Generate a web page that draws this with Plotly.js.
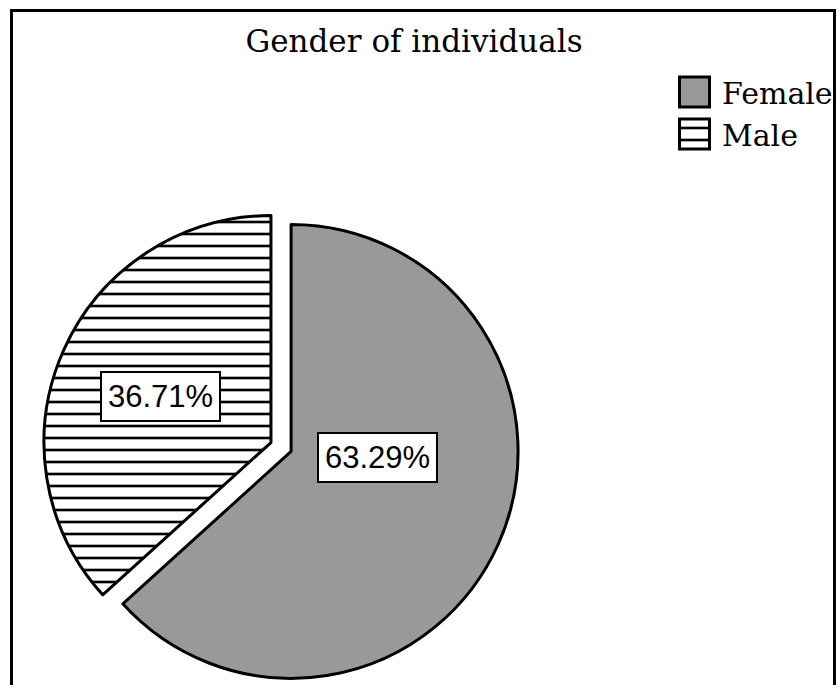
<!DOCTYPE html>
<html>
<head>
<meta charset="utf-8">
<script src="https://cdn.plot.ly/plotly-3.0.1.min.js"></script>
<style>html,body{margin:0;padding:0;background:#fff;}#chart{width:839px;height:685px;}</style>
</head>
<body>
<div id="chart"></div>
<script>
// ---- data ----
const chartTitle = 'Gender of individuals';
const labels = ['Female', 'Male'];
const values = [63.29, 36.71];
const pctText = ['63.29%', '36.71%'];

// ---- layout / style ----
const W = 839, H = 685;
const domainX = [0.0513, 0.6186];
const domainY = [0.0, 0.6949];
const pull = 0.0485;
const fills = ['#999999', '#ffffff'];
const patternShapes = ['', '-'];
// label placement: radial fraction and angular shift (deg) relative to slice mid-angle
const labelFrac = [0.38, 0.526];
const labelShift = [-20, -1];

// compute label positions from data + pie geometry
const total = values.reduce((a, b) => a + b, 0);
const cx = W * (domainX[0] + domainX[1]) / 2;
const domH = H * (domainY[1] - domainY[0]);
const cy = H * (1 - domainY[0]) - domH / 2;
const rBase = Math.min(W * (domainX[1] - domainX[0]), domH) / 2;
const r = rBase / (1 + pull);
let cum = 0;
const annotations = [];
values.forEach((v, i) => {
  const a0 = cum / total * 360;
  cum += v;
  const a1 = cum / total * 360;
  const mid = (a0 + a1) / 2 * Math.PI / 180;
  const scx = cx + pull * r * Math.sin(mid);
  const scy = cy - pull * r * Math.cos(mid);
  const la = ((a0 + a1) / 2 + labelShift[i]) * Math.PI / 180;
  const lx = scx + labelFrac[i] * r * Math.sin(la);
  const ly = scy - labelFrac[i] * r * Math.cos(la);
  annotations.push({
    xref: 'paper', yref: 'paper', x: lx / W, y: 1 - ly / H,
    xanchor: 'center', yanchor: 'middle', showarrow: false,
    text: pctText[i],
    font: {family: 'Liberation Sans, Arial, sans-serif', size: 31, color: '#000'},
    bgcolor: '#ffffff', bordercolor: '#000000', borderwidth: 2, borderpad: 6
  });
});

const trace = {
  type: 'pie',
  labels: labels,
  values: values,
  sort: false,
  direction: 'clockwise',
  rotation: 0,
  pull: pull,
  textinfo: 'none',
  hoverinfo: 'none',
  domain: {x: domainX, y: domainY},
  marker: {
    colors: fills,
    line: {color: '#000000', width: 3},
    pattern: {shape: patternShapes, fgcolor: '#000000', bgcolor: '#ffffff', size: 12, solidity: 0.22, fillmode: 'replace'}
  }
};

const layout = {
  width: W, height: H,
  margin: {l: 0, r: 0, t: 0, b: 0},
  paper_bgcolor: '#ffffff',
  plot_bgcolor: '#ffffff',
  title: {
    text: chartTitle,
    font: {family: 'DejaVu Serif, serif', size: 31, color: '#000'},
    x: 414 / W, xanchor: 'center', xref: 'paper',
    y: 1 - 30 / H, yanchor: 'top', yref: 'container'
  },
  showlegend: true,
  legend: {
    x: 672 / W, y: 1 - 66 / H, xanchor: 'left', yanchor: 'top',
    font: {family: 'DejaVu Serif, serif', size: 30, color: '#000'},
    itemwidth: 40, bgcolor: 'rgba(0,0,0,0)', borderwidth: 0,
    traceorder: 'normal'
  },
  shapes: [{
    type: 'rect', xref: 'paper', yref: 'paper',
    x0: 11.5 / W, x1: 834.5 / W, y0: -0.2, y1: 1 - 10.5 / H,
    line: {color: '#000', width: 3}, fillcolor: 'rgba(0,0,0,0)', layer: 'above'
  }],
  annotations: annotations
};

Plotly.newPlot('chart', [trace], layout, {staticPlot: true, displayModeBar: false}).then(function (gd) {
  gd.querySelectorAll('path.legendpie').forEach(function (p) {
    p.setAttribute('d', 'M15,15H-15V-15H15Z');
    p.setAttribute('transform', 'translate(22.5,0)');
  });
});
</script>
</body>
</html>
